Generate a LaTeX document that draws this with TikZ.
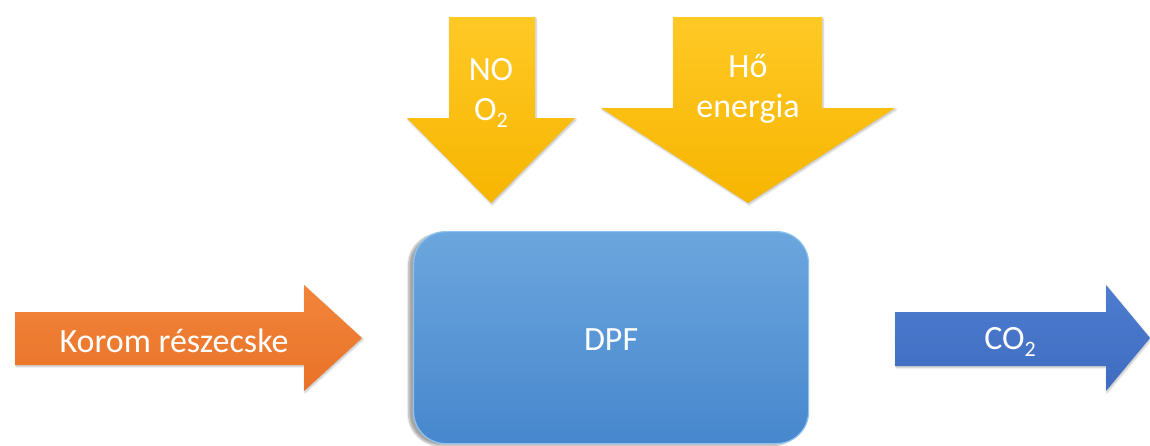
\documentclass[tikz,border=0pt]{standalone}
\usepackage{fontspec}
\setmainfont{Carlito}
\usetikzlibrary{shadows.blur}
\definecolor{yelTop}{HTML}{FFC926}
\definecolor{yelBot}{HTML}{F7B500}
\definecolor{orTop}{HTML}{F2853A}
\definecolor{orBot}{HTML}{E87228}
\definecolor{blTop}{HTML}{4D7DD0}
\definecolor{blBot}{HTML}{3F6CC0}
\definecolor{dpfTop}{HTML}{6CA6DE}
\definecolor{dpfBot}{HTML}{4787CD}
\definecolor{dpfEdge}{HTML}{8EC3F0}
\newcommand{\mysubs}[1]{\raisebox{-0.45ex}{\fontsize{22}{22}\selectfont #1}}
\tikzset{
  yelarrow/.style={top color=yelTop, bottom color=yelBot, draw=none, blur shadow={shadow xshift=1pt, shadow yshift=-1.5pt, shadow blur steps=6, shadow opacity=25}},
  orarrow/.style={top color=orTop, bottom color=orBot, draw=none, blur shadow={shadow xshift=1pt, shadow yshift=-1.5pt, shadow blur steps=6, shadow opacity=25}},
  blarrow/.style={top color=blTop, bottom color=blBot, draw=none, blur shadow={shadow xshift=1pt, shadow yshift=-1.5pt, shadow blur steps=6, shadow opacity=25}},
  lbl/.style={text=white, font=\fontsize{34}{40}\selectfont, align=center, inner sep=0pt},
}
\begin{document}
\begin{tikzpicture}[x=1pt,y=-1pt]
\useasboundingbox (0,0) rectangle (1150,445);
% NO / O2 arrow
\path[yelarrow] (449,17) -- (535,17) -- (535,118) -- (575,118) -- (491,203) -- (407,118) -- (449,118) -- cycle;
% Ho energia arrow
\path[yelarrow] (673,17) -- (822,17) -- (822,108) -- (895,108) -- (748,203) -- (601,108) -- (673,108) -- cycle;
% Korom arrow
\path[orarrow] (15,312) -- (304,312) -- (304,285) -- (362,338) -- (304,391) -- (304,365) -- (15,365) -- cycle;
% CO2 arrow
\path[blarrow] (895,312) -- (1106,312) -- (1106,285) -- (1150,338) -- (1106,391) -- (1106,366) -- (895,366) -- cycle;
% DPF box
\node[draw=dpfEdge, line width=1.2pt, top color=dpfTop, bottom color=dpfBot, rounded corners=32pt,
      minimum width=395pt, minimum height=212pt, anchor=north west, inner sep=0pt,
      blur shadow={shadow xshift=-5pt, shadow yshift=-2pt, shadow blur steps=8, shadow opacity=35}]
      (dpf) at (413,231) {};
\node[lbl] (dpflbl) at ([yshift=-2pt]dpf.center) {DPF};
\node[lbl] (no) at (491,93) {NO\\O\mysubs{2}};
\node[lbl] (ho) at (748,89) {Hő\\energia};
\node[lbl] (korom) at (174,341) {Korom részecske};
\node[lbl] (co2) at (1010,342) {CO\mysubs{2}};
\end{tikzpicture}
\end{document}
